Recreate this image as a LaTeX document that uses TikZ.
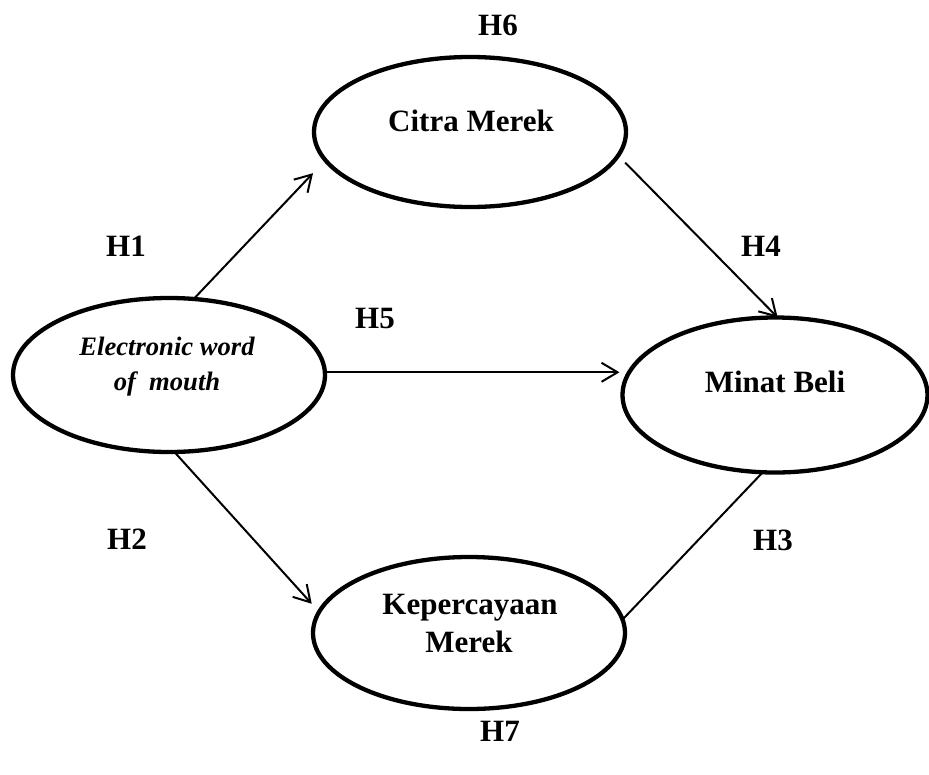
\documentclass[tikz,border=0pt]{standalone}
\usepackage{fontspec}
\setmainfont{Liberation Serif}
\usetikzlibrary{shapes.geometric,arrows.meta}
\tikzset{
  oval/.style={draw=black, line width=4.3pt, ellipse, inner sep=0pt, outer sep=0pt},
  lbl/.style={anchor=base, inner sep=0pt, font=\fontsize{31}{38}\selectfont\bfseries},
  itl/.style={anchor=base, inner sep=0pt, font=\fontsize{26.6}{35}\selectfont\bfseries\itshape},
  conn/.style={draw=black, line width=2pt},
  arr/.style={conn, -{Straight Barb[length=16pt,width=19pt,line width=2pt]}}
}
\begin{document}
\begin{tikzpicture}[x=1pt,y=-1pt]
\useasboundingbox (0,0) rectangle (929,774);
% ellipses
\node[oval, minimum width=312pt, minimum height=150pt] (citra) at (470,132) {};
\node[oval, minimum width=312pt, minimum height=154pt] (ewom) at (169,375) {};
\node[oval, minimum width=305pt, minimum height=155pt] (minat) at (775,395) {};
\node[oval, minimum width=312pt, minimum height=152pt] (kep) at (469,633) {};
% texts in ellipses
\node[lbl] (tcitra) at (471,131) {Citra Merek};
\node[lbl] (tminat) at (775,392) {Minat Beli};
\node[itl] (tewom1) at (167,355) {Electronic word};
\node[itl] (tewom2) at (167,390) {of\ \ mouth};
\node[lbl] (tkep1) at (470,614) {Kepercayaan};
\node[lbl] (tkep2) at (469,652) {Merek};
% hypothesis labels
\node[lbl] (h6) at (498,35) {H6};
\node[lbl] (h1) at (126,256) {H1};
\node[lbl] (h4) at (761,256) {H4};
\node[lbl] (h5) at (375,328) {H5};
\node[lbl] (h2) at (127,549) {H2};
\node[lbl] (h3) at (773,550) {H3};
\node[lbl] (h7) at (500,741) {H7};
% connectors
\draw[arr, shorten >=18pt] (ewom.72) -- (citra.191);
\draw[arr, shorten <=10pt] (citra.-9) -- (minat.88);
\draw[arr, shorten >=3pt] (ewom.1) -- (ewom.1 -| minat.west);
\draw[arr, shorten >=11pt] (ewom.-86) -- (kep.172);
\draw[conn] (kep.5) -- (minat.-99);
\end{tikzpicture}
\end{document}
